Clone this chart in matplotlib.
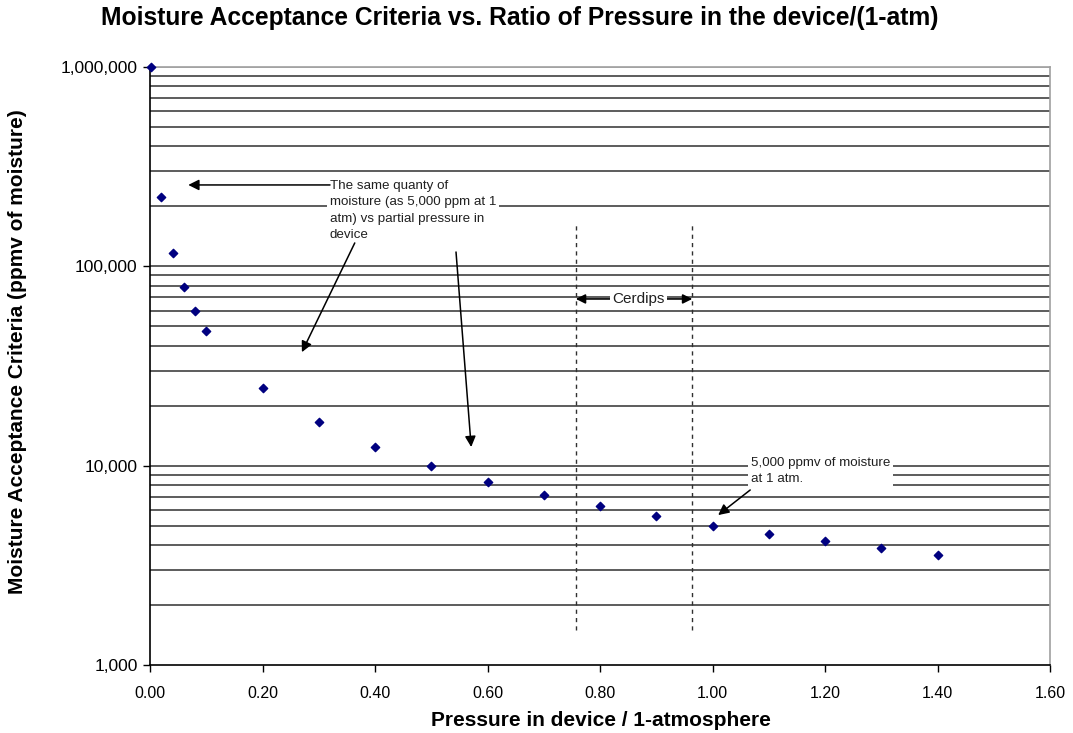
import numpy as np
import matplotlib.pyplot as plt
from matplotlib.ticker import FixedLocator, FuncFormatter, NullFormatter

plt.rcParams['font.family'] = ['Liberation Sans', 'DejaVu Sans']

# ratio of pressure in the device to 1 atm, and the matching moisture limit (ppmv)
pressure_ratio = [0.002, 0.02, 0.04, 0.06, 0.08, 0.10, 0.20, 0.30, 0.40, 0.50,
                  0.60, 0.70, 0.80, 0.90, 1.00, 1.10, 1.20, 1.30, 1.40]
moisture_ppmv = [1000000, 222000, 117000, 79000, 60000, 47500, 24500, 16600, 12400, 10000,
                 8300, 7130, 6270, 5590, 4980, 4540, 4190, 3860, 3560]

cerdip_range = [0.757, 0.964]
x_ticks = [0.0, 0.2, 0.4, 0.6, 0.8, 1.0, 1.2, 1.4, 1.6]
y_major = [1e3, 1e4, 1e5, 1e6]

fig = plt.figure(figsize=(10.73, 7.33), dpi=100)
ax = fig.add_axes([0.1398, 0.0928, 0.8388, 0.8158])

ax.set_yscale('log')
ax.set_xlim(0, 1.6)
ax.set_ylim(1e3, 1e6)

# horizontal grid at every 1..9 x decade (except the bottom axis)
grid_vals = [m * 10 ** d for d in (3, 4, 5) for m in range(1, 10)][1:] + [1e6]
for g in grid_vals:
    col = '#a0a0a0' if g == 1e6 else '#303030'
    ax.axhline(g, color=col, lw=1.1, zorder=1)

ax.scatter(pressure_ratio, moisture_ppmv, marker='D', s=18, color='#000080', zorder=5,
           clip_on=False)

# cerdip band
for xv in cerdip_range:
    ax.plot([xv, xv], [1500, 167000], color='#303030', lw=1, ls=(0, (3, 3)), zorder=3)

ax.annotate('', xy=(cerdip_range[0], 68600), xytext=(cerdip_range[1], 68600),
            arrowprops=dict(arrowstyle='<|-|>', color='black', lw=1.2, mutation_scale=14,
                            shrinkA=0, shrinkB=0), zorder=4)
ax.text(0.868, 68600, 'Cerdips', ha='center', va='center', fontsize=11, color='#202020',
        bbox=dict(facecolor='white', edgecolor='none', pad=1.5), zorder=6)

# annotation 1
ax.text(0.3195, 272000, 'The same quanty of\nmoisture (as 5,000 ppm at 1\natm) vs partial pressure in\ndevice',
        ha='left', va='top', fontsize=9.6, linespacing=1.5, color='#202020',
        bbox=dict(facecolor='white', edgecolor='none', pad=2), zorder=6)
arrow_kw = dict(arrowstyle='-|>', color='black', lw=1.1, mutation_scale=16,
                shrinkA=0, shrinkB=0)
ax.annotate('', xy=(0.068, 256000), xytext=(0.32, 256000), arrowprops=arrow_kw, zorder=7)
ax.annotate('', xy=(0.270, 37100), xytext=(0.364, 131000), arrowprops=arrow_kw, zorder=7)
ax.annotate('', xy=(0.571, 12400), xytext=(0.544, 118000), arrowprops=arrow_kw, zorder=7)

# annotation 2
ax.text(1.068, 11100, '5,000 ppmv of moisture\nat 1 atm.', ha='left', va='top', fontsize=9.6,
        linespacing=1.5, color='#202020',
        bbox=dict(facecolor='white', edgecolor='none', pad=2), zorder=6)
ax.annotate('', xy=(1.010, 5650), xytext=(1.067, 7550), arrowprops=arrow_kw, zorder=7)

# axes styling
ax.yaxis.set_major_locator(FixedLocator(y_major))
ax.yaxis.set_minor_formatter(NullFormatter())
ax.yaxis.set_major_formatter(FuncFormatter(lambda v, p: f'{int(round(v)):,}'))
ax.tick_params(axis='y', which='minor', length=0)
ax.set_xticks(x_ticks)
ax.set_xticklabels([f'{v:.2f}' for v in x_ticks])
ax.tick_params(axis='both', which='major', direction='out', length=5, width=1, color='black')
ax.tick_params(axis='y', labelsize=12.5, pad=4)
ax.tick_params(axis='x', labelsize=11.5, pad=10)

for side in ('left', 'bottom'):
    ax.spines[side].set_color('black')
    ax.spines[side].set_linewidth(1.2)
for side in ('top', 'right'):
    ax.spines[side].set_color('#a0a0a0')
    ax.spines[side].set_linewidth(1.2)

fig.text(601 / 1073, 1 - 720 / 733, 'Pressure in device / 1-atmosphere', ha='center',
         va='center', fontsize=15, fontweight='bold')
fig.text(18 / 1073, 1 - 352 / 733, 'Moisture Acceptance Criteria (ppmv of moisture)',
         ha='center', va='center', rotation=90, fontsize=15, fontweight='bold')
fig.text(520 / 1073, 1 - 18 / 733,
         'Moisture Acceptance Criteria vs. Ratio of Pressure in the device/(1-atm)',
         ha='center', va='center', fontsize=17.7, fontweight='bold')

fig.savefig('out.png', dpi=100)
